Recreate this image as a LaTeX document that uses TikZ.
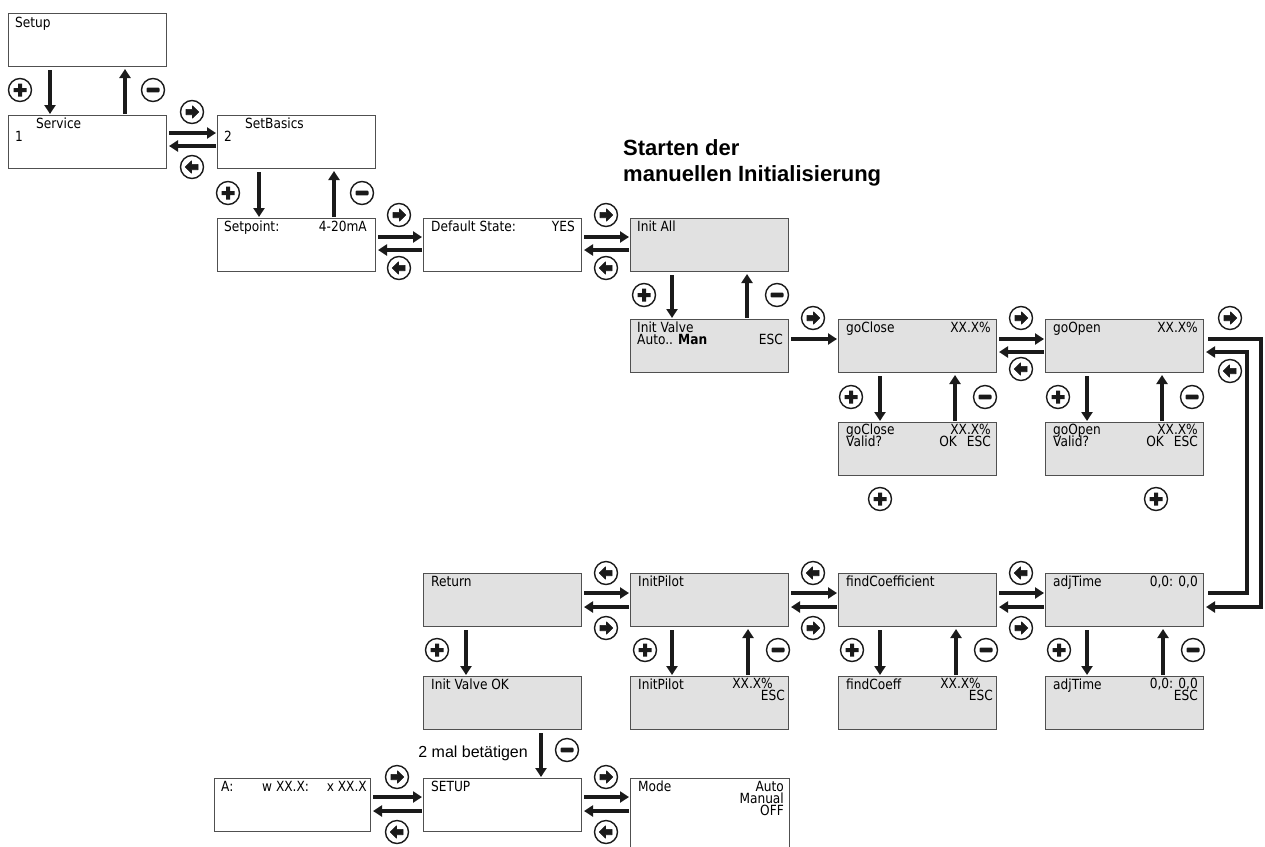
\documentclass[tikz,border=0pt]{standalone}
\usepackage{fontspec}
\setmainfont{DejaVu Sans}[FakeStretch=0.87]
\newfontfamily\headfont{Liberation Sans}
\usetikzlibrary{arrows.meta}
\definecolor{boxgray}{HTML}{E1E1E1}
\definecolor{edge}{HTML}{505050}
\definecolor{ink}{HTML}{1A1A1A}
\tikzset{
  scr/.style={draw=edge, line width=1pt, fill=white, minimum width=158pt, minimum height=53pt, inner sep=0pt, anchor=north west},
  gscr/.style={scr, fill=boxgray},
  txt/.style={inner sep=0pt, anchor=base west, font=\fontsize{14}{15}\selectfont},
  rtxt/.style={txt, anchor=base east},
  arr/.style={draw=ink, line width=3.8pt, -{Triangle[length=9pt,width=11pt]}, line join=miter},
  btn/.style={circle, draw=ink, line width=1.4pt, fill=white, minimum size=23pt, inner sep=0pt},
  plusbtn/.style={btn, path picture={\fill[ink, shift={(path picture bounding box.center)}] (-6.5pt,-2pt) rectangle (6.5pt,2pt) (-2pt,-6.5pt) rectangle (2pt,6.5pt);}},
  minusbtn/.style={btn, path picture={\fill[ink, rounded corners=1pt, shift={(path picture bounding box.center)}] (-6.5pt,-2.4pt) rectangle (6.5pt,2.4pt);}},
  rightbtn/.style={btn, path picture={\filldraw[ink, line width=0.6pt, line join=round, shift={(path picture bounding box.center)}] (-6pt,-2.7pt) -- (0.5pt,-2.7pt) -- (0.5pt,-6.2pt) -- (6.8pt,0pt) -- (0.5pt,6.2pt) -- (0.5pt,2.7pt) -- (-6pt,2.7pt) -- cycle;}},
  leftbtn/.style={btn, path picture={\filldraw[ink, line width=0.6pt, line join=round, shift={(path picture bounding box.center)}] (6pt,-2.7pt) -- (-0.5pt,-2.7pt) -- (-0.5pt,-6.2pt) -- (-6.8pt,0pt) -- (-0.5pt,6.2pt) -- (-0.5pt,2.7pt) -- (6pt,2.7pt) -- cycle;}},
}
\begin{document}
\begin{tikzpicture}[x=1pt, y=-1pt]
\useasboundingbox (0,0) rectangle (1265,846);

% ---------- screens ----------
\node[scr]  (setup)     at (8,13)    {};
\node[scr]  (service)   at (8,115)   {};
\node[scr]  (setbasics) at (217,115) {};
\node[scr]  (setpoint)  at (217,218) {};
\node[scr]  (defstate)  at (423,218) {};
\node[gscr] (initall)   at (630,218) {};
\node[gscr] (initvalve) at (630,319) {};
\node[gscr] (goclose)   at (838,319) {};
\node[gscr] (goopen)    at (1045,319) {};
\node[gscr] (closeval)  at (838,422) {};
\node[gscr] (openval)   at (1045,422) {};
\node[gscr] (ret)       at (423,573) {};
\node[gscr] (pilot)     at (630,573) {};
\node[gscr] (coeff)     at (838,573) {};
\node[gscr] (adj)       at (1045,573) {};
\node[gscr] (valveok)   at (423,676) {};
\node[gscr] (pilotsub)  at (630,676) {};
\node[gscr] (coeffsub)  at (838,676) {};
\node[gscr] (adjsub)    at (1045,676) {};
\node[scr, minimum width=156pt] (aw) at (214,778) {};
\node[scr]  (setupb)    at (423,778) {};
\node[scr, draw=none, minimum height=72pt] (mode) at (630,778) {};
\draw[edge, line width=1pt] (mode.south west) -- (mode.north west) -- (mode.north east) -- (mode.south east);

% ---------- texts ----------
\node[txt]  (t1)  at (15,27)   {Setup};
\node[txt]  (t2)  at (36,128)  {Service};
\node[txt]  (t3)  at (15,141)  {1};
\node[txt]  (t4)  at (245,128) {SetBasics};
\node[txt]  (t5)  at (224,141) {2};
\node[txt]  (t6)  at (224,231) {Setpoint:};
\node[rtxt] (t7)  at (367,231) {4-20mA};
\node[txt]  (t8)  at (431,231) {Default State:};
\node[rtxt] (t9)  at (575,231) {YES};
\node[txt]  (t10) at (637,231) {Init All};
\node[txt]  (t11) at (637,332) {Init Valve};
\node[txt]  (t12) at (637,344) {Auto.. \textbf{Man}};
\node[rtxt] (t13) at (783,344) {ESC};
\node[txt]  (t14) at (846,332) {goClose};
\node[rtxt] (t15) at (991,332) {XX.X\%};
\node[txt]  (t16) at (1053,332) {goOpen};
\node[rtxt] (t17) at (1198,332) {XX.X\%};
\node[txt]  (t18) at (846,434) {goClose};
\node[rtxt] (t19) at (991,434) {XX.X\%};
\node[txt]  (t20) at (846,446) {Valid?};
\node[rtxt] (t21) at (991,446) {OK\hspace{10pt}ESC};
\node[txt]  (t22) at (1053,434) {goOpen};
\node[rtxt] (t23) at (1198,434) {XX.X\%};
\node[txt]  (t24) at (1053,446) {Valid?};
\node[rtxt] (t25) at (1198,446) {OK\hspace{10pt}ESC};
\node[txt]  (t26) at (431,586) {Return};
\node[txt]  (t27) at (638,586) {InitPilot};
\node[txt]  (t28) at (846,586) {findCoefficient};
\node[txt]  (t29) at (1053,586) {adjTime};
\node[rtxt] (t30) at (1198,586) {0,0: 0,0};
\node[txt]  (t31) at (431,689) {Init Valve OK};
\node[txt]  (t32) at (638,689) {InitPilot};
\node[rtxt] (t33) at (773,688) {XX.X\%};
\node[rtxt] (t34) at (785,700) {ESC};
\node[txt]  (t35) at (846,689) {findCoeff};
\node[rtxt] (t36) at (981,688) {XX.X\%};
\node[rtxt] (t37) at (993,700) {ESC};
\node[txt]  (t38) at (1053,689) {adjTime};
\node[rtxt] (t39) at (1198,688) {0,0: 0,0};
\node[rtxt] (t40) at (1198,700) {ESC};
\node[txt]  (t41) at (221,791) {A:};
\node[txt]  (t42) at (262,791) {w XX.X:};
\node[rtxt] (t43) at (367,791) {x XX.X};
\node[txt]  (t44) at (431,791) {SETUP};
\node[txt]  (t45) at (638,791) {Mode};
\node[rtxt] (t46) at (784,791) {Auto};
\node[rtxt] (t47) at (784,803) {Manual};
\node[rtxt] (t48) at (784,815) {OFF};

\node[inner sep=0pt, anchor=base west, font=\headfont\bfseries\fontsize{22}{26}\selectfont] (h1) at (623,155) {Starten der};
\node[inner sep=0pt, anchor=base west, font=\headfont\bfseries\fontsize{22}{26}\selectfont] (h2) at (623,181) {manuellen Initialisierung};
\node[inner sep=0pt, anchor=base east, font=\headfont\fontsize{16}{18}\selectfont] (lbl) at (528,757) {2 mal betätigen};

% ---------- vertical arrows ----------
\draw[arr] ([shift={(42pt,-3pt)}]setup.south west) -- ([shift={(42pt,1pt)}]service.north west);
\draw[arr] ([shift={(117pt,1pt)}]service.north west) -- ([shift={(117pt,-2pt)}]setup.south west);
\draw[arr] ([shift={(42pt,-3pt)}]setbasics.south west) -- ([shift={(42pt,1pt)}]setpoint.north west);
\draw[arr] ([shift={(117pt,1pt)}]setpoint.north west) -- ([shift={(117pt,-2pt)}]setbasics.south west);
\draw[arr] ([shift={(42pt,-3pt)}]initall.south west) -- ([shift={(42pt,1pt)}]initvalve.north west);
\draw[arr] ([shift={(117pt,1pt)}]initvalve.north west) -- ([shift={(117pt,-2pt)}]initall.south west);
\draw[arr] ([shift={(42pt,-3pt)}]goclose.south west) -- ([shift={(42pt,1pt)}]closeval.north west);
\draw[arr] ([shift={(117pt,1pt)}]closeval.north west) -- ([shift={(117pt,-2pt)}]goclose.south west);
\draw[arr] ([shift={(42pt,-3pt)}]goopen.south west) -- ([shift={(42pt,1pt)}]openval.north west);
\draw[arr] ([shift={(117pt,1pt)}]openval.north west) -- ([shift={(117pt,-2pt)}]goopen.south west);
\draw[arr] ([shift={(43pt,-3pt)}]ret.south west) -- ([shift={(43pt,1pt)}]valveok.north west);
\draw[arr] ([shift={(42pt,-3pt)}]pilot.south west) -- ([shift={(42pt,1pt)}]pilotsub.north west);
\draw[arr] ([shift={(118pt,1pt)}]pilotsub.north west) -- ([shift={(118pt,-2pt)}]pilot.south west);
\draw[arr] ([shift={(42pt,-3pt)}]coeff.south west) -- ([shift={(42pt,1pt)}]coeffsub.north west);
\draw[arr] ([shift={(118pt,1pt)}]coeffsub.north west) -- ([shift={(118pt,-2pt)}]coeff.south west);
\draw[arr] ([shift={(42pt,-3pt)}]adj.south west) -- ([shift={(42pt,1pt)}]adjsub.north west);
\draw[arr] ([shift={(118pt,1pt)}]adjsub.north west) -- ([shift={(118pt,-2pt)}]adj.south west);
\draw[arr] ([shift={(118pt,-3pt)}]valveok.south west) -- ([shift={(118pt,1pt)}]setupb.north west);

% ---------- horizontal arrows ----------
\draw[arr] ([shift={(2pt,-18pt)}]service.north east) -- ([shift={(-1pt,-18pt)}]setbasics.north west);
\draw[arr] ([shift={(-1pt,-31pt)}]setbasics.north west) -- ([shift={(2pt,-31pt)}]service.north east);
\draw[arr] ([shift={(2pt,-19pt)}]setpoint.north east) -- ([shift={(-1pt,-19pt)}]defstate.north west);
\draw[arr] ([shift={(-1pt,-32pt)}]defstate.north west) -- ([shift={(2pt,-32pt)}]setpoint.north east);
\draw[arr] ([shift={(2pt,-19pt)}]defstate.north east) -- ([shift={(-1pt,-19pt)}]initall.north west);
\draw[arr] ([shift={(-1pt,-32pt)}]initall.north west) -- ([shift={(2pt,-32pt)}]defstate.north east);
\draw[arr] ([shift={(2pt,-20pt)}]initvalve.north east) -- ([shift={(-1pt,-20pt)}]goclose.north west);
\draw[arr] ([shift={(2pt,-20pt)}]goclose.north east) -- ([shift={(-1pt,-20pt)}]goopen.north west);
\draw[arr] ([shift={(-1pt,-33pt)}]goopen.north west) -- ([shift={(2pt,-33pt)}]goclose.north east);
\draw[arr] ([shift={(2pt,-20pt)}]ret.north east) -- ([shift={(-1pt,-20pt)}]pilot.north west);
\draw[arr] ([shift={(-1pt,-34pt)}]pilot.north west) -- ([shift={(2pt,-34pt)}]ret.north east);
\draw[arr] ([shift={(2pt,-20pt)}]pilot.north east) -- ([shift={(-1pt,-20pt)}]coeff.north west);
\draw[arr] ([shift={(-1pt,-34pt)}]coeff.north west) -- ([shift={(2pt,-34pt)}]pilot.north east);
\draw[arr] ([shift={(2pt,-20pt)}]coeff.north east) -- ([shift={(-1pt,-20pt)}]adj.north west);
\draw[arr] ([shift={(-1pt,-34pt)}]adj.north west) -- ([shift={(2pt,-34pt)}]coeff.north east);
\draw[arr] ([shift={(2pt,-19pt)}]aw.north east) -- ([shift={(-1pt,-19pt)}]setupb.north west);
\draw[arr] ([shift={(-1pt,-33pt)}]setupb.north west) -- ([shift={(2pt,-33pt)}]aw.north east);
\draw[arr] ([shift={(2pt,-19pt)}]setupb.north east) -- ([shift={(-1pt,-19pt)}]mode.north west);
\draw[arr] ([shift={(-1pt,-33pt)}]mode.north west) -- ([shift={(2pt,-33pt)}]setupb.north east);

% ---------- loop between goOpen and adjTime ----------
\coordinate (o1) at (1261,339);
\coordinate (o2) at (1261,607);
\coordinate (i1) at (1247,593);
\coordinate (i2) at (1247,352);
\draw[arr] ([shift={(4pt,-20pt)}]goopen.north east) -- (o1) -- (o2) -- ([shift={(2pt,-34pt)}]adj.north east);
\draw[arr] ([shift={(4pt,-20pt)}]adj.north east) -- (i1) -- (i2) -- ([shift={(2pt,-33pt)}]goopen.north east);

% ---------- buttons ----------
\node[plusbtn]  (b1)  at (20,90) {};
\node[minusbtn] (b2)  at (153,90) {};
\node[rightbtn] (b3)  at (192,112) {};
\node[leftbtn]  (b4)  at (192,167) {};
\node[plusbtn]  (b5)  at (228,193) {};
\node[minusbtn] (b6)  at (362,193) {};
\node[rightbtn] (b7)  at (399,215) {};
\node[leftbtn]  (b8)  at (399,268) {};
\node[rightbtn] (b9)  at (606,215) {};
\node[leftbtn]  (b10) at (606,268) {};
\node[plusbtn]  (b11) at (644,295) {};
\node[minusbtn] (b12) at (777,295) {};
\node[rightbtn] (b13) at (813,318) {};
\node[rightbtn] (b14) at (1021,318) {};
\node[leftbtn]  (b15) at (1021,369) {};
\node[rightbtn] (b16) at (1230,318) {};
\node[leftbtn]  (b17) at (1230,371) {};
\node[plusbtn]  (b18) at (851,397) {};
\node[minusbtn] (b19) at (985,397) {};
\node[plusbtn]  (b20) at (1058,397) {};
\node[minusbtn] (b21) at (1192,397) {};
\node[plusbtn]  (b22) at (880,499) {};
\node[plusbtn]  (b23) at (1156,499) {};
\node[leftbtn]  (b24) at (606,573) {};
\node[rightbtn] (b25) at (606,628) {};
\node[leftbtn]  (b26) at (813,573) {};
\node[rightbtn] (b27) at (813,628) {};
\node[leftbtn]  (b28) at (1021,573) {};
\node[rightbtn] (b29) at (1021,628) {};
\node[plusbtn]  (b30) at (437,650) {};
\node[plusbtn]  (b31) at (645,650) {};
\node[minusbtn] (b32) at (778,650) {};
\node[plusbtn]  (b33) at (852,650) {};
\node[minusbtn] (b34) at (986,650) {};
\node[plusbtn]  (b35) at (1059,650) {};
\node[minusbtn] (b36) at (1193,650) {};
\node[minusbtn] (b37) at (567,750) {};
\node[rightbtn] (b38) at (397,777) {};
\node[leftbtn]  (b39) at (397,832) {};
\node[rightbtn] (b40) at (606,777) {};
\node[leftbtn]  (b41) at (606,832) {};
\end{tikzpicture}
\end{document}
